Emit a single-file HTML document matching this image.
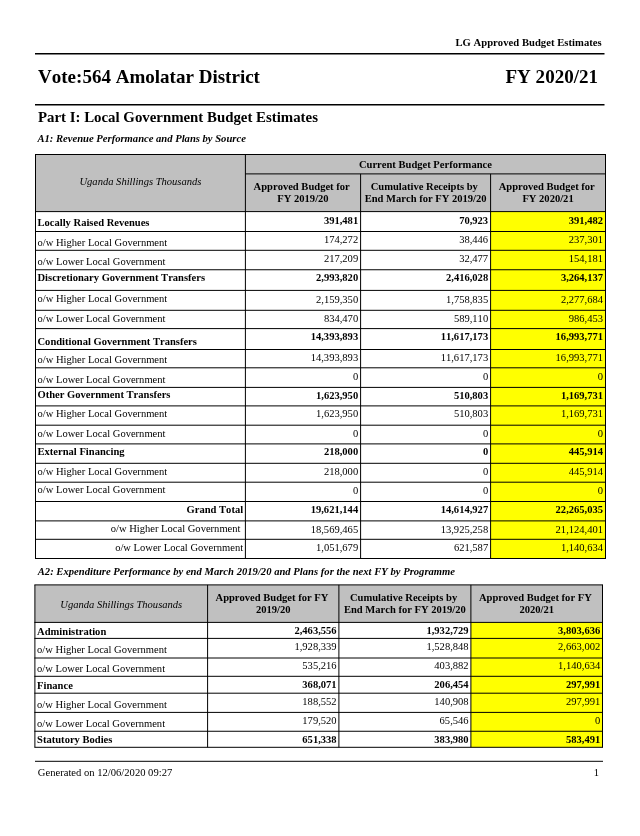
<!DOCTYPE html>
<html lang="en"><head><meta charset="utf-8"><title>LG Approved Budget Estimates</title>
<style>
html,body{margin:0;padding:0;background:#fff;}
body{width:640px;height:836px;position:relative;overflow:hidden;font-family:"Liberation Serif","Times New Roman",serif;color:#000;}
.t{position:absolute;white-space:pre;line-height:1;font-kerning:none;font-variant-ligatures:none;}
.b{font-weight:bold;}
.i{font-style:italic;}
svg{position:absolute;left:0;top:0;}
</style></head>
<body>
<svg width="640" height="836" viewBox="0 0 640 836">
<line x1="35.00" y1="53.75" x2="604.50" y2="53.75" stroke="#000" stroke-width="1.4"/>
<line x1="35.00" y1="104.70" x2="604.50" y2="104.70" stroke="#000" stroke-width="1.4"/>
<rect x="35.50" y="154.50" width="570.00" height="57.10" fill="#c0c0c0"/>
<rect x="490.60" y="211.60" width="114.90" height="346.90" fill="#ffff00"/>
<line x1="35.00" y1="154.50" x2="606.00" y2="154.50" stroke="#000" stroke-width="1.0"/>
<line x1="245.40" y1="173.90" x2="605.50" y2="173.90" stroke="#000" stroke-width="1.0"/>
<line x1="35.00" y1="211.60" x2="606.00" y2="211.60" stroke="#000" stroke-width="1.0"/>
<line x1="35.00" y1="231.50" x2="606.00" y2="231.50" stroke="#000" stroke-width="1.0"/>
<line x1="35.00" y1="250.30" x2="606.00" y2="250.30" stroke="#000" stroke-width="1.0"/>
<line x1="35.00" y1="269.75" x2="606.00" y2="269.75" stroke="#000" stroke-width="1.0"/>
<line x1="35.00" y1="290.40" x2="606.00" y2="290.40" stroke="#000" stroke-width="1.0"/>
<line x1="35.00" y1="310.30" x2="606.00" y2="310.30" stroke="#000" stroke-width="1.0"/>
<line x1="35.00" y1="328.60" x2="606.00" y2="328.60" stroke="#000" stroke-width="1.0"/>
<line x1="35.00" y1="349.50" x2="606.00" y2="349.50" stroke="#000" stroke-width="1.0"/>
<line x1="35.00" y1="367.80" x2="606.00" y2="367.80" stroke="#000" stroke-width="1.0"/>
<line x1="35.00" y1="387.40" x2="606.00" y2="387.40" stroke="#000" stroke-width="1.0"/>
<line x1="35.00" y1="405.90" x2="606.00" y2="405.90" stroke="#000" stroke-width="1.0"/>
<line x1="35.00" y1="425.20" x2="606.00" y2="425.20" stroke="#000" stroke-width="1.0"/>
<line x1="35.00" y1="443.90" x2="606.00" y2="443.90" stroke="#000" stroke-width="1.0"/>
<line x1="35.00" y1="463.30" x2="606.00" y2="463.30" stroke="#000" stroke-width="1.0"/>
<line x1="35.00" y1="482.20" x2="606.00" y2="482.20" stroke="#000" stroke-width="1.0"/>
<line x1="35.00" y1="501.50" x2="606.00" y2="501.50" stroke="#000" stroke-width="1.0"/>
<line x1="35.00" y1="520.90" x2="606.00" y2="520.90" stroke="#000" stroke-width="1.0"/>
<line x1="35.00" y1="539.30" x2="606.00" y2="539.30" stroke="#000" stroke-width="1.0"/>
<line x1="35.00" y1="558.50" x2="606.00" y2="558.50" stroke="#000" stroke-width="1.0"/>
<line x1="35.50" y1="154.50" x2="35.50" y2="558.50" stroke="#000" stroke-width="1.0"/>
<line x1="605.50" y1="154.50" x2="605.50" y2="558.50" stroke="#000" stroke-width="1.0"/>
<line x1="245.40" y1="154.50" x2="245.40" y2="558.50" stroke="#000" stroke-width="1.0"/>
<line x1="360.60" y1="173.90" x2="360.60" y2="558.50" stroke="#000" stroke-width="1.0"/>
<line x1="490.60" y1="173.90" x2="490.60" y2="558.50" stroke="#000" stroke-width="1.0"/>
<rect x="34.90" y="584.90" width="567.60" height="37.50" fill="#c0c0c0"/>
<rect x="470.90" y="622.40" width="131.60" height="124.90" fill="#ffff00"/>
<line x1="34.40" y1="584.90" x2="603.00" y2="584.90" stroke="#000" stroke-width="1.0"/>
<line x1="34.40" y1="622.40" x2="603.00" y2="622.40" stroke="#000" stroke-width="1.0"/>
<line x1="34.40" y1="638.40" x2="603.00" y2="638.40" stroke="#000" stroke-width="1.0"/>
<line x1="34.40" y1="658.00" x2="603.00" y2="658.00" stroke="#000" stroke-width="1.0"/>
<line x1="34.40" y1="676.30" x2="603.00" y2="676.30" stroke="#000" stroke-width="1.0"/>
<line x1="34.40" y1="693.20" x2="603.00" y2="693.20" stroke="#000" stroke-width="1.0"/>
<line x1="34.40" y1="712.40" x2="603.00" y2="712.40" stroke="#000" stroke-width="1.0"/>
<line x1="34.40" y1="731.25" x2="603.00" y2="731.25" stroke="#000" stroke-width="1.0"/>
<line x1="34.40" y1="747.30" x2="603.00" y2="747.30" stroke="#000" stroke-width="1.0"/>
<line x1="34.90" y1="584.90" x2="34.90" y2="747.30" stroke="#000" stroke-width="1.0"/>
<line x1="207.60" y1="584.90" x2="207.60" y2="747.30" stroke="#000" stroke-width="1.0"/>
<line x1="338.90" y1="584.90" x2="338.90" y2="747.30" stroke="#000" stroke-width="1.0"/>
<line x1="470.90" y1="584.90" x2="470.90" y2="747.30" stroke="#000" stroke-width="1.0"/>
<line x1="602.50" y1="584.90" x2="602.50" y2="747.30" stroke="#000" stroke-width="1.0"/>
<line x1="35.00" y1="761.30" x2="603.00" y2="761.30" stroke="#000" stroke-width="1.0"/>
</svg>
<div class="t b" style="top:38px;font-size:10.6px;right:38.30px;letter-spacing:0.04px;">LG Approved Budget Estimates</div>
<div class="t b" style="top:67px;font-size:19.05px;left:38.00px;">Vote:564 Amolatar District</div>
<div class="t b" style="top:67px;font-size:19.05px;right:42.00px;">FY 2020/21</div>
<div class="t b" style="top:110px;font-size:14.85px;left:38.00px;">Part I: Local Government Budget Estimates</div>
<div class="t b i" style="top:134px;font-size:10.6px;left:37.50px;">A1: Revenue Performance and Plans by Source</div>
<div class="t i" style="top:177px;font-size:10.56px;left:35.50px;width:209.90px;text-align:center;">Uganda Shillings Thousands</div>
<div class="t b" style="top:160px;font-size:10.56px;left:245.40px;width:360.10px;text-align:center;">Current Budget Performance</div>
<div class="t b" style="top:182px;font-size:10.56px;left:245.40px;width:115.20px;text-align:center;">Approved Budget for </div>
<div class="t b" style="top:194px;font-size:10.56px;left:245.40px;width:115.20px;text-align:center;">FY 2019/20</div>
<div class="t b" style="top:182px;font-size:10.56px;left:360.60px;width:130.00px;text-align:center;">Cumulative Receipts by </div>
<div class="t b" style="top:194px;font-size:10.56px;left:360.60px;width:130.00px;text-align:center;">End March for FY 2019/20</div>
<div class="t b" style="top:182px;font-size:10.56px;left:490.60px;width:114.90px;text-align:center;">Approved Budget for </div>
<div class="t b" style="top:194px;font-size:10.56px;left:490.60px;width:114.90px;text-align:center;">FY 2020/21</div>
<div class="t b" style="top:218px;font-size:10.56px;left:37.50px;">Locally Raised Revenues</div>
<div class="t b" style="top:216px;font-size:10.56px;right:281.85px;">391,481</div>
<div class="t b" style="top:216px;font-size:10.56px;right:151.85px;">70,923</div>
<div class="t b" style="top:216px;font-size:10.56px;right:36.95px;">391,482</div>
<div class="t" style="top:238px;font-size:10.56px;left:37.50px;">o/w Higher Local Government</div>
<div class="t" style="top:235px;font-size:10.56px;right:281.85px;">174,272</div>
<div class="t" style="top:235px;font-size:10.56px;right:151.85px;">38,446</div>
<div class="t" style="top:235px;font-size:10.56px;right:36.95px;">237,301</div>
<div class="t" style="top:257px;font-size:10.56px;left:37.50px;">o/w Lower Local Government</div>
<div class="t" style="top:254px;font-size:10.56px;right:281.85px;">217,209</div>
<div class="t" style="top:254px;font-size:10.56px;right:151.85px;">32,477</div>
<div class="t" style="top:254px;font-size:10.56px;right:36.95px;">154,181</div>
<div class="t b" style="top:273px;font-size:10.56px;left:37.50px;">Discretionary Government Transfers</div>
<div class="t b" style="top:273px;font-size:10.56px;right:281.85px;">2,993,820</div>
<div class="t b" style="top:273px;font-size:10.56px;right:151.85px;">2,416,028</div>
<div class="t b" style="top:273px;font-size:10.56px;right:36.95px;">3,264,137</div>
<div class="t" style="top:294px;font-size:10.56px;left:37.50px;">o/w Higher Local Government</div>
<div class="t" style="top:295px;font-size:10.56px;right:281.85px;">2,159,350</div>
<div class="t" style="top:295px;font-size:10.56px;right:151.85px;">1,758,835</div>
<div class="t" style="top:295px;font-size:10.56px;right:36.95px;">2,277,684</div>
<div class="t" style="top:314px;font-size:10.56px;left:37.50px;">o/w Lower Local Government</div>
<div class="t" style="top:314px;font-size:10.56px;right:281.85px;">834,470</div>
<div class="t" style="top:314px;font-size:10.56px;right:151.85px;">589,110</div>
<div class="t" style="top:314px;font-size:10.56px;right:36.95px;">986,453</div>
<div class="t b" style="top:337px;font-size:10.56px;left:37.50px;">Conditional Government Transfers</div>
<div class="t b" style="top:332px;font-size:10.56px;right:281.85px;">14,393,893</div>
<div class="t b" style="top:332px;font-size:10.56px;right:151.85px;">11,617,173</div>
<div class="t b" style="top:332px;font-size:10.56px;right:36.95px;">16,993,771</div>
<div class="t" style="top:355px;font-size:10.56px;left:37.50px;">o/w Higher Local Government</div>
<div class="t" style="top:353px;font-size:10.56px;right:281.85px;">14,393,893</div>
<div class="t" style="top:353px;font-size:10.56px;right:151.85px;">11,617,173</div>
<div class="t" style="top:353px;font-size:10.56px;right:36.95px;">16,993,771</div>
<div class="t" style="top:375px;font-size:10.56px;left:37.50px;">o/w Lower Local Government</div>
<div class="t" style="top:372px;font-size:10.56px;right:281.85px;">0</div>
<div class="t" style="top:372px;font-size:10.56px;right:151.85px;">0</div>
<div class="t" style="top:372px;font-size:10.56px;right:36.95px;">0</div>
<div class="t b" style="top:390px;font-size:10.56px;left:37.50px;">Other Government Transfers</div>
<div class="t b" style="top:391px;font-size:10.56px;right:281.85px;">1,623,950</div>
<div class="t b" style="top:391px;font-size:10.56px;right:151.85px;">510,803</div>
<div class="t b" style="top:391px;font-size:10.56px;right:36.95px;">1,169,731</div>
<div class="t" style="top:409px;font-size:10.56px;left:37.50px;">o/w Higher Local Government</div>
<div class="t" style="top:409px;font-size:10.56px;right:281.85px;">1,623,950</div>
<div class="t" style="top:409px;font-size:10.56px;right:151.85px;">510,803</div>
<div class="t" style="top:409px;font-size:10.56px;right:36.95px;">1,169,731</div>
<div class="t" style="top:429px;font-size:10.56px;left:37.50px;">o/w Lower Local Government</div>
<div class="t" style="top:429px;font-size:10.56px;right:281.85px;">0</div>
<div class="t" style="top:429px;font-size:10.56px;right:151.85px;">0</div>
<div class="t" style="top:429px;font-size:10.56px;right:36.95px;">0</div>
<div class="t b" style="top:447px;font-size:10.56px;left:37.50px;">External Financing</div>
<div class="t b" style="top:447px;font-size:10.56px;right:281.85px;">218,000</div>
<div class="t b" style="top:447px;font-size:10.56px;right:151.85px;">0</div>
<div class="t b" style="top:447px;font-size:10.56px;right:36.95px;">445,914</div>
<div class="t" style="top:467px;font-size:10.56px;left:37.50px;">o/w Higher Local Government</div>
<div class="t" style="top:467px;font-size:10.56px;right:281.85px;">218,000</div>
<div class="t" style="top:467px;font-size:10.56px;right:151.85px;">0</div>
<div class="t" style="top:467px;font-size:10.56px;right:36.95px;">445,914</div>
<div class="t" style="top:485px;font-size:10.56px;left:37.50px;">o/w Lower Local Government</div>
<div class="t" style="top:486px;font-size:10.56px;right:281.85px;">0</div>
<div class="t" style="top:486px;font-size:10.56px;right:151.85px;">0</div>
<div class="t" style="top:486px;font-size:10.56px;right:36.95px;">0</div>
<div class="t b" style="top:505px;font-size:10.56px;right:396.90px;">Grand Total</div>
<div class="t b" style="top:505px;font-size:10.56px;right:281.85px;">19,621,144</div>
<div class="t b" style="top:505px;font-size:10.56px;right:151.85px;">14,614,927</div>
<div class="t b" style="top:505px;font-size:10.56px;right:36.95px;">22,265,035</div>
<div class="t" style="top:524px;font-size:10.56px;right:396.90px;">o/w Higher Local Government </div>
<div class="t" style="top:525px;font-size:10.56px;right:281.85px;">18,569,465</div>
<div class="t" style="top:525px;font-size:10.56px;right:151.85px;">13,925,258</div>
<div class="t" style="top:525px;font-size:10.56px;right:36.95px;">21,124,401</div>
<div class="t" style="top:543px;font-size:10.56px;right:396.90px;">o/w Lower Local Government</div>
<div class="t" style="top:543px;font-size:10.56px;right:281.85px;">1,051,679</div>
<div class="t" style="top:543px;font-size:10.56px;right:151.85px;">621,587</div>
<div class="t" style="top:543px;font-size:10.56px;right:36.95px;">1,140,634</div>
<div class="t b i" style="top:567px;font-size:10.6px;left:37.75px;letter-spacing:0.014px;">A2: Expenditure Performance by end March 2019/20 and Plans for the next FY by Programme</div>
<div class="t i" style="top:600px;font-size:10.56px;left:34.90px;width:172.70px;text-align:center;">Uganda Shillings Thousands</div>
<div class="t b" style="top:593px;font-size:10.56px;left:207.60px;width:131.30px;text-align:center;">Approved Budget for FY </div>
<div class="t b" style="top:605px;font-size:10.56px;left:207.60px;width:131.30px;text-align:center;">2019/20</div>
<div class="t b" style="top:593px;font-size:10.56px;left:338.90px;width:132.00px;text-align:center;">Cumulative Receipts by </div>
<div class="t b" style="top:605px;font-size:10.56px;left:338.90px;width:132.00px;text-align:center;">End March for FY 2019/20</div>
<div class="t b" style="top:593px;font-size:10.56px;left:470.90px;width:131.60px;text-align:center;">Approved Budget for FY </div>
<div class="t b" style="top:605px;font-size:10.56px;left:470.90px;width:131.60px;text-align:center;">2020/21</div>
<div class="t b" style="top:627px;font-size:10.56px;left:37.10px;">Administration</div>
<div class="t b" style="top:626px;font-size:10.56px;right:303.40px;">2,463,556</div>
<div class="t b" style="top:626px;font-size:10.56px;right:171.40px;">1,932,729</div>
<div class="t b" style="top:626px;font-size:10.56px;right:39.80px;">3,803,636</div>
<div class="t" style="top:645px;font-size:10.56px;left:37.10px;">o/w Higher Local Government</div>
<div class="t" style="top:642px;font-size:10.56px;right:303.40px;">1,928,339</div>
<div class="t" style="top:642px;font-size:10.56px;right:171.40px;">1,528,848</div>
<div class="t" style="top:642px;font-size:10.56px;right:39.80px;">2,663,002</div>
<div class="t" style="top:664px;font-size:10.56px;left:37.10px;">o/w Lower Local Government</div>
<div class="t" style="top:661px;font-size:10.56px;right:303.40px;">535,216</div>
<div class="t" style="top:661px;font-size:10.56px;right:171.40px;">403,882</div>
<div class="t" style="top:661px;font-size:10.56px;right:39.80px;">1,140,634</div>
<div class="t b" style="top:681px;font-size:10.56px;left:37.10px;">Finance</div>
<div class="t b" style="top:680px;font-size:10.56px;right:303.40px;">368,071</div>
<div class="t b" style="top:680px;font-size:10.56px;right:171.40px;">206,454</div>
<div class="t b" style="top:680px;font-size:10.56px;right:39.80px;">297,991</div>
<div class="t" style="top:700px;font-size:10.56px;left:37.10px;">o/w Higher Local Government</div>
<div class="t" style="top:697px;font-size:10.56px;right:303.40px;">188,552</div>
<div class="t" style="top:697px;font-size:10.56px;right:171.40px;">140,908</div>
<div class="t" style="top:697px;font-size:10.56px;right:39.80px;">297,991</div>
<div class="t" style="top:719px;font-size:10.56px;left:37.10px;">o/w Lower Local Government</div>
<div class="t" style="top:716px;font-size:10.56px;right:303.40px;">179,520</div>
<div class="t" style="top:716px;font-size:10.56px;right:171.40px;">65,546</div>
<div class="t" style="top:716px;font-size:10.56px;right:39.80px;">0</div>
<div class="t b" style="top:735px;font-size:10.56px;left:37.10px;">Statutory Bodies</div>
<div class="t b" style="top:735px;font-size:10.56px;right:303.40px;">651,338</div>
<div class="t b" style="top:735px;font-size:10.56px;right:171.40px;">383,980</div>
<div class="t b" style="top:735px;font-size:10.56px;right:39.80px;">583,491</div>
<div class="t" style="top:768px;font-size:10.6px;left:37.80px;">Generated on 12/06/2020 09:27</div>
<div class="t" style="top:768px;font-size:10.6px;right:41.00px;">1</div>
</body></html>
